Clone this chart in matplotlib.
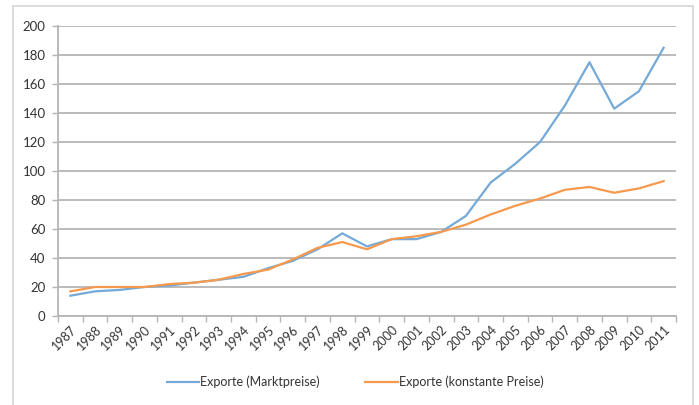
import numpy as np
import matplotlib
matplotlib.use("Agg")
import matplotlib.pyplot as plt
from matplotlib.patches import Rectangle

plt.rcParams["font.family"] = ["Lato", "DejaVu Sans"]

jahre = [str(j) for j in range(1987, 2012)]
markt = [14, 17, 18, 20, 21, 23, 25, 27, 33, 38, 46, 57, 48, 53, 53, 58, 69,
         92, 105, 120, 145, 175, 143, 155, 185]
konstant = [17, 20, 20, 20, 22, 23, 25, 29, 32, 39, 47, 51, 46, 53, 55, 58, 63,
            70, 76, 81, 87, 89, 85, 88, 93]

blau = "#74A9D8"
orange = "#F5994E"
grau = "#B5B5B5"

fig = plt.figure(figsize=(6.99, 4.05), dpi=100)
fig.patches.append(Rectangle((13 / 699, -0.05), 680 / 699, 1.05 - 6 / 405,
                             transform=fig.transFigure, fill=False,
                             edgecolor="#D6D6D6", linewidth=1.2))
ax = fig.add_axes([58 / 699, 1 - 316 / 405, 618 / 699, 290 / 405])

x = np.arange(len(jahre))
ax.plot(x, markt, color=blau, linewidth=1.6, label="Exporte (Marktpreise)", zorder=3)
ax.plot(x, konstant, color=orange, linewidth=1.6, label="Exporte (konstante Preise)", zorder=3)

ax.set_xlim(-0.5, len(jahre) - 0.5)
ax.set_ylim(0, 200)
ax.set_yticks(range(0, 201, 20))
ax.yaxis.grid(True, color=grau, linewidth=1.3)
ax.set_axisbelow(True)

# Kategorien: Striche zwischen den Jahren, Beschriftung in der Mitte
ax.set_xticks(np.arange(len(jahre) + 1) - 0.5)
ax.set_xticklabels([])
ax.set_xticks(x, minor=True)
ax.set_xticklabels(jahre, minor=True, rotation=45, ha="right", va="top",
                   rotation_mode="anchor", fontsize=9, color="#333333")
ax.tick_params(axis="x", which="major", length=4, color=grau, width=1)
ax.tick_params(axis="x", which="minor", length=0, pad=5)
ax.tick_params(axis="y", length=4, color=grau, width=1, labelsize=9.5,
               labelcolor="#333333", pad=5)

for s in ["top", "right"]:
    ax.spines[s].set_visible(False)
for s in ["left", "bottom"]:
    ax.spines[s].set_color(grau)
    ax.spines[s].set_linewidth(1.3)

fig.legend(loc="center", bbox_to_anchor=(0.508, 1 - 382 / 405), ncol=2,
           frameon=False, fontsize=9, handlelength=2.6, handletextpad=0.1,
           columnspacing=3.6, labelcolor="#333333")

fig.savefig("out.png", dpi=100)
